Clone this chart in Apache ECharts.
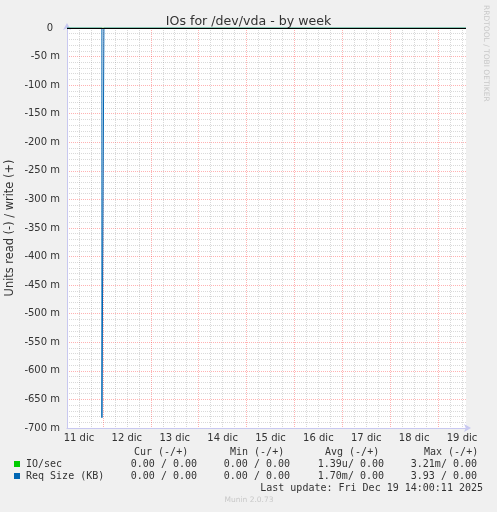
<!DOCTYPE html>
<html><head><meta charset="utf-8">
<script src="https://cdn.jsdelivr.net/npm/echarts@6/dist/echarts.min.js"></script>
<style>html,body{margin:0;padding:0;background:#f0f0f0}#c{width:497px;height:512px}</style>
</head><body><div id="c"></div>
<script>
// ---- data ----
var dayLabels = ['11 dic','12 dic','13 dic','14 dic','15 dic','16 dic','17 dic','18 dic','19 dic'];
var labelHours = [12, 36, 60, 84, 108, 132, 156, 180, 204]; // hours since 11 dic 00:00
var yTickValues = [0, -0.05, -0.1, -0.15, -0.2, -0.25, -0.3, -0.35, -0.4, -0.45, -0.5, -0.55, -0.6, -0.65, -0.7];
var ioSec = [[6, 0], [206, 0]];
var reqSize = [[6, 0], [23.5, 0], [23.5, -0.682], [24.5, -0.682], [24.5, 0], [206, 0]];
var legendNames = ['IO/sec', 'Req Size (KB)'];
var legendColors = ['#00cc00', '#0066b3'];
var curVals = ['0.00 / 0.00', '0.00 / 0.00'];
var minVals = ['0.00 / 0.00', '0.00 / 0.00'];
var avgVals = ['1.39u/ 0.00', '1.70m/ 0.00'];
var maxVals = ['3.21m/ 0.00', '3.93 / 0.00'];
var colHeaders = ['Cur (-/+)', 'Min (-/+)', 'Avg (-/+)', 'Max (-/+)'];
var lastUpdate = 'Last update: Fri Dec 19 14:00:11 2025';

var chart = echarts.init(document.getElementById('c'));
var mono = 'DejaVu Sans Mono';
var sans = 'DejaVu Sans';
var txtCol = '#333';
var g = [];
var colHx = [134, 230, 325, 424];
colHeaders.forEach(function (h, i) {
  g.push({type:'text', x: colHx[i], y: 452, style:{text:h, font:'10px '+mono, fill:txtCol, textAlign:'left', textVerticalAlign:'middle'}, silent:true});
});
var valCols = [curVals, minVals, avgVals, maxVals];
var valRight = [197, 290, 384, 477];
for (var r = 0; r < legendNames.length; r++) {
  var yy = 464 + r * 12;
  g.push({type:'rect', shape:{x:14, y:yy-3, width:6, height:6}, style:{fill:legendColors[r]}, silent:true});
  g.push({type:'text', x: 26, y: yy, style:{text:legendNames[r], font:'10px '+mono, fill:txtCol, textVerticalAlign:'middle'}, silent:true});
  for (var c = 0; c < 4; c++) {
    g.push({type:'text', x: valRight[c], y: yy, style:{text:valCols[c][r], font:'10px '+mono, fill:txtCol, textAlign:'right', textVerticalAlign:'middle'}, silent:true});
  }
}
g.push({type:'text', x: 483, y: 488, style:{text:lastUpdate, font:'10px '+mono, fill:txtCol, textAlign:'right', textVerticalAlign:'middle'}, silent:true});
g.push({type:'text', x: 249, y: 500, style:{text:'Munin 2.0.73', font:'7.5px '+sans, fill:'#c8c8c8', textAlign:'center', textVerticalAlign:'middle'}, silent:true});
g.push({type:'text', x: 486, y: 5, rotation: -Math.PI/2, style:{text:'RRDTOOL / TOBI OETIKER', font:'7.5px '+sans, fill:'#c8c8c8', textAlign:'left', textVerticalAlign:'middle'}, silent:true});
g.push({type:'text', x: 10.5, y: 228, rotation: Math.PI/2, style:{text:'Units read (-) / write (+)', font:'11.4px '+sans, fill:txtCol, textAlign:'center', textVerticalAlign:'middle'}, silent:true});

var grey = 'rgba(128,128,128,0.3)';
var red = 'rgba(255,0,0,0.3)';
var axisCol = '#c8c8f0';

chart.setOption({
  backgroundColor: '#f0f0f0',
  animation: false,
  title: {text: 'IOs for /dev/vda - by week', left: 'center', top: 10,
    textStyle: {fontFamily: sans, fontSize: 12.6, fontWeight: 'normal', color: '#333'}},
  grid: {left: 67, right: 31, top: 28, bottom: 84, show: true, backgroundColor: '#fff', borderWidth: 0},
  xAxis: {
    type: 'value', min: 6, max: 206, interval: 6,
    axisLine: {show: true, onZero: false, lineStyle: {color: axisCol, width: 1}, symbol: ['none', 'arrow'], symbolSize: [6, 7], symbolOffset: [0, 5]},
    axisTick: {show: false},
    axisLabel: {
      color: '#333', fontFamily: sans, fontSize: 10, margin: 5, showMinLabel: false, showMaxLabel: false, hideOverlap: false,
      formatter: function (v) { var i = labelHours.indexOf(Math.round(v)); return i >= 0 ? dayLabels[i] : ''; }
    },
    splitLine: {show: true, showMaxLine: false, lineStyle: {color: [grey, grey, grey, red], width: 1, type: [1, 1]}}
  },
  yAxis: {
    type: 'value', min: -0.7, max: 0, interval: 0.05,
    axisLine: {show: true, onZero: false, lineStyle: {color: axisCol, width: 1}, symbol: ['none', 'arrow'], symbolSize: [6, 7], symbolOffset: [0, 5]},
    axisTick: {show: false},
    axisLabel: {
      color: '#333', fontFamily: sans, fontSize: 10, margin: 7,
      rich: {z: {fontFamily: sans, fontSize: 10, color: '#333', padding: [0, 7, 0, 0]}},
      formatter: function (v) {
        var k = Math.round(v * 1000);
        for (var i = 0; i < yTickValues.length; i++) if (Math.round(yTickValues[i] * 1000) === k) return k === 0 ? '{z|0}' : k + ' m';
        return '';
      }
    },
    splitLine: {show: true, lineStyle: {color: red, width: 1, type: [1, 1]}},
    minorTick: {show: false, splitNumber: 5},
    minorSplitLine: {show: true, lineStyle: {color: grey, width: 1, type: [1, 1]}}
  },
  series: [
    {name: legendNames[0], type: 'line', data: ioSec, showSymbol: false, lineStyle: {color: legendColors[0], width: 1}, z: 2,
     markLine: {silent: true, symbol: 'none', label: {show: false}, lineStyle: {color: '#000', width: 1, type: 'solid'}, data: [{yAxis: 0}]}},
    {name: legendNames[1], type: 'line', data: reqSize, showSymbol: false, lineStyle: {color: legendColors[1], width: 1}, z: 3}
  ],
  graphic: g
});
</script></body></html>
